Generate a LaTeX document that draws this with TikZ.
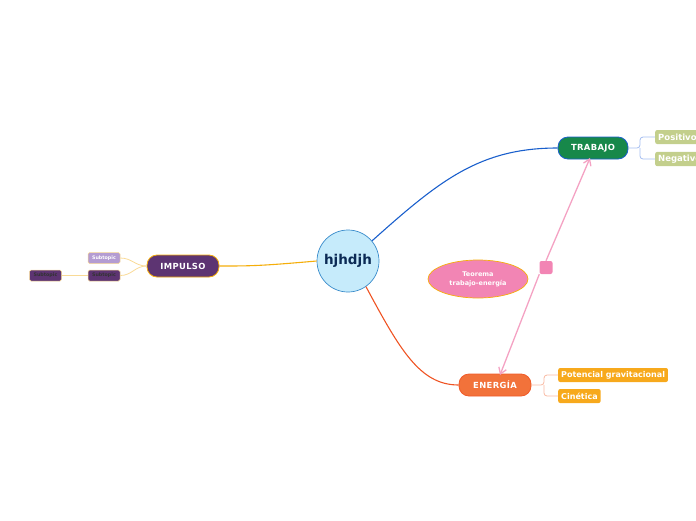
\documentclass[tikz,border=0pt]{standalone}
\usepackage{fontspec}
\setmainfont{DejaVu Sans}
\usetikzlibrary{arrows.meta,shapes.geometric}
\definecolor{cfill}{HTML}{C6EBFB}
\definecolor{cborder}{HTML}{3A8CCB}
\definecolor{navy}{HTML}{0B2A55}
\definecolor{tgreen}{HTML}{17884A}
\definecolor{tblue}{HTML}{1A5FCC}
\definecolor{olive}{HTML}{C3CF8C}
\definecolor{lblue}{HTML}{A5BDF0}
\definecolor{ipurple}{HTML}{5D3472}
\definecolor{lpurple}{HTML}{B49CD2}
\definecolor{iorange}{HTML}{F5AE0A}
\definecolor{lyellow}{HTML}{F9DA96}
\definecolor{eorange}{HTML}{F2723A}
\definecolor{ered}{HTML}{EF5424}
\definecolor{sorange}{HTML}{F7A91C}
\definecolor{salmon}{HTML}{F8B9A2}
\definecolor{pink}{HTML}{F285B4}
\definecolor{lpink}{HTML}{F4A2C3}
\tikzset{
  main/.style={rounded corners=10pt,minimum width=72pt,minimum height=22pt,inner sep=0pt,font=\fontsize{8.4}{9}\selectfont\bfseries\addfontfeature{LetterSpace=4},text=white,line width=0.8pt},
  sub/.style={rounded corners=2pt,minimum height=14pt,inner sep=3pt,font=\fontsize{8}{9}\selectfont\bfseries,text=white,anchor=west},
  tiny/.style={rounded corners=1.5pt,minimum width=32pt,minimum height=11pt,inner sep=0pt,font=\fontsize{4.8}{5}\selectfont\bfseries,draw=lyellow,line width=0.5pt},
}
\begin{document}
\begin{tikzpicture}[x=1pt,y=-1pt]
\useasboundingbox (0,0) rectangle (696,520);
% nodes
\node[circle,fill=cfill,draw=cborder,line width=0.7pt,minimum size=62pt,inner sep=0pt,text=navy,font=\fontsize{13.5}{14}\selectfont\bfseries] (c) at (348,261) {hjhdjh};
\node[main,fill=tgreen,draw=tblue,minimum width=70pt] (tr) at (593,148) {TRABAJO};
\node[main,fill=ipurple,draw=iorange] (im) at (183,266) {IMPULSO};
\node[main,fill=eorange,draw=ered!80!eorange] (en) at (495,385) {ENERGÍA};
\node[sub,fill=olive,font=\fontsize{8.5}{9}\selectfont\bfseries] (po) at (655,137) {Positivo};
\node[sub,fill=olive,font=\fontsize{8.5}{9}\selectfont\bfseries] (ne) at (655,159) {Negativo};
\node[sub,fill=sorange] (pg) at (558,375) {Potencial gravitacional};
\node[sub,fill=sorange] (ci) at (558,396) {Cinética};
\node[tiny,fill=lpurple,text=white] (s1) at (104,258) {Subtopic};
\node[tiny,fill=ipurple,text=black!80] (s2) at (104,275.5) {Subtopic};
\node[tiny,fill=ipurple,text=black!80] (s3) at (45.5,275.5) {Subtopic};
\node[ellipse,fill=pink,draw=iorange,line width=0.7pt,minimum width=100pt,minimum height=38pt,inner sep=0pt,text=white,align=center,font=\fontsize{6.5}{9}\selectfont\bfseries] (te) at (478,279) {Teorema\\trabajo-energía};
\node[rounded corners=2pt,fill=pink,minimum size=13pt,inner sep=0pt] (sq) at (546,267.5) {};
% main connectors
\draw[tblue,line width=1.1pt] (c.40) .. controls (440,180) and (480,148) .. (tr.west);
\draw[iorange,line width=1.1pt] (c.west) .. controls (260,266) and (250,266) .. (im.east);
\draw[ered,line width=1.1pt] (c.-55) .. controls (400,350) and (420,385) .. (en.west);
% sub connectors
\coordinate (tj) at (640,148);
\draw[lblue,line width=0.8pt,rounded corners=3pt] (tr.east) -- (tj) |- (po.west);
\draw[lblue,line width=0.8pt,rounded corners=3pt] (tj) |- (ne.west);
\coordinate (ej) at (544,385);
\draw[salmon,line width=0.8pt,rounded corners=3pt] (en.east) -- (ej) |- (pg.west);
\draw[salmon,line width=0.8pt,rounded corners=3pt] (ej) |- (ci.west);
\draw[lyellow,line width=0.8pt] (im.west) .. controls (135,266) and (132,258) .. (s1.east);
\draw[lyellow,line width=0.8pt] (im.west) .. controls (135,266) and (132,275.5) .. (s2.east);
\draw[lyellow,line width=0.8pt] (s2.west) -- (s3.east);
% relationship
\draw[lpink,line width=1.3pt,-{Straight Barb[length=6pt,width=8pt]}] (sq.north) -- (590,158);
\draw[lpink,line width=1.3pt,-{Straight Barb[length=6pt,width=8pt]}] (sq.south west) -- (500,375);
\end{tikzpicture}
\end{document}
